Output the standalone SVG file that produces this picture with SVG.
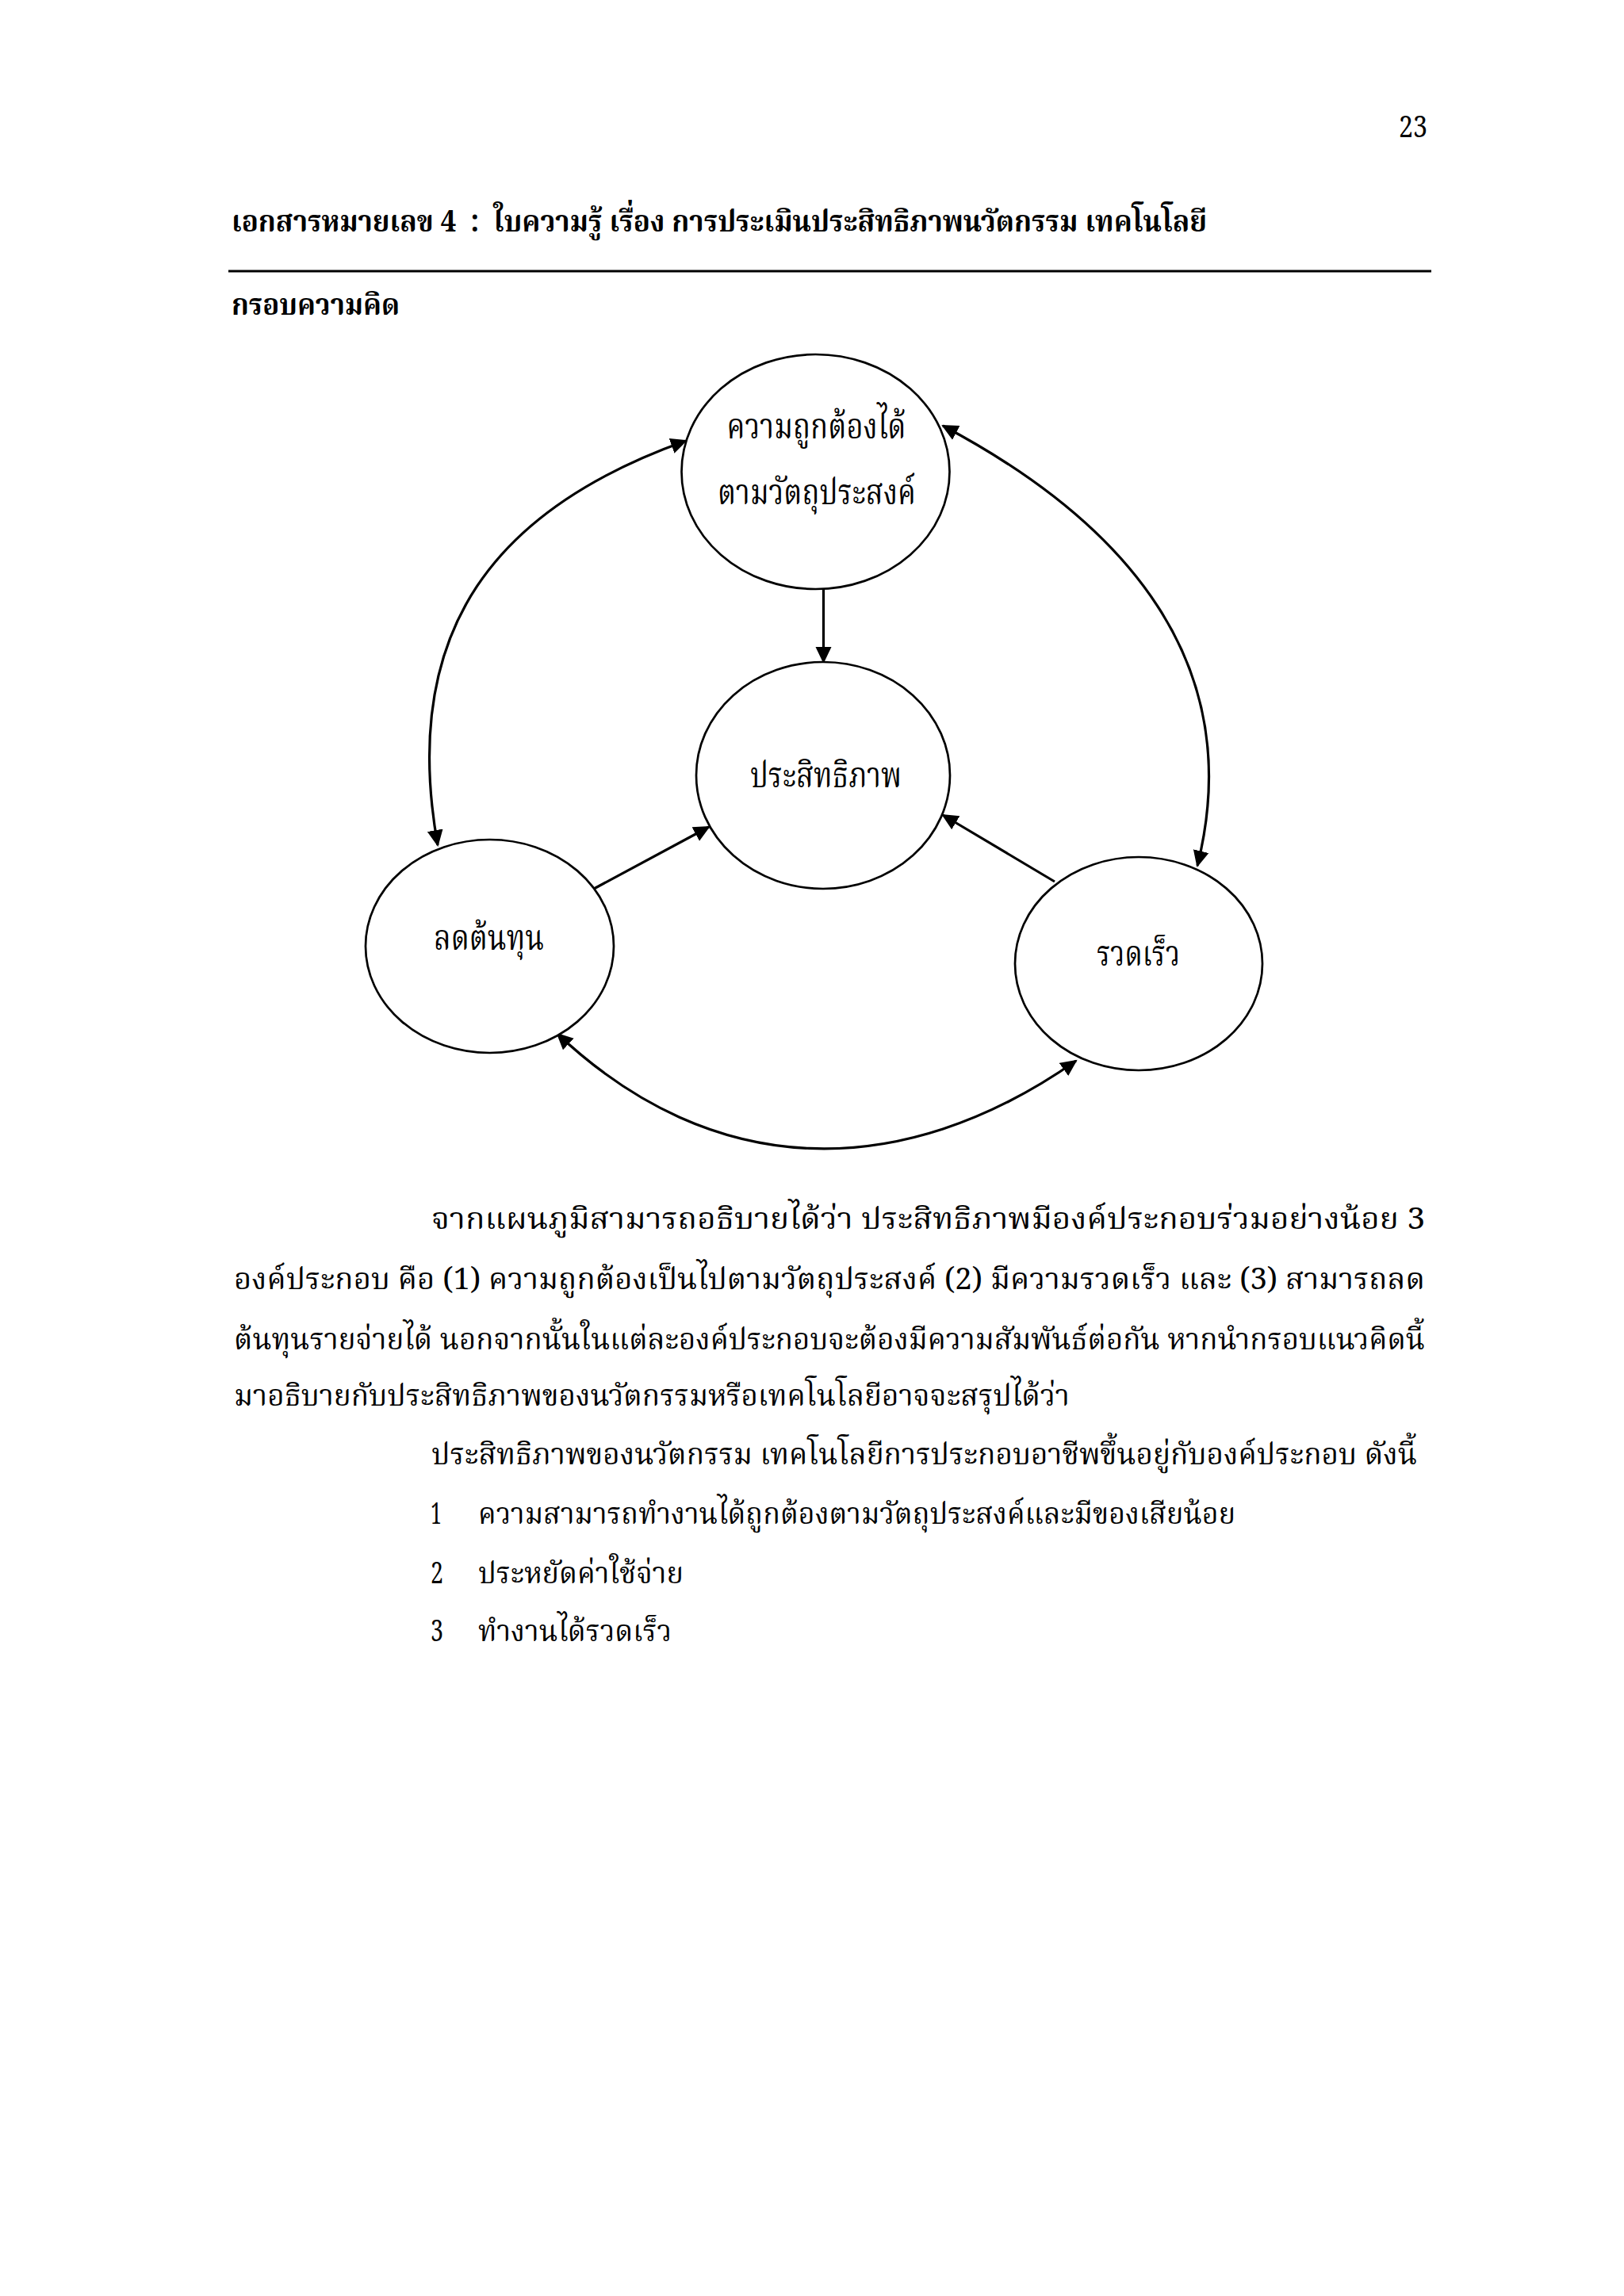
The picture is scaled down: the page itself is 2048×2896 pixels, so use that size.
<svg xmlns="http://www.w3.org/2000/svg" width="2048" height="2896" viewBox="0 0 2048 2896">
<style>
text{font-family:"Noto Serif Thai","Noto Sans Thai","Liberation Serif","Noto Sans",serif;fill:#000}
.b{font-weight:bold}
.t{font-size:38px}
.d{font-size:44px}
.node{fill:#fff;stroke:#000;stroke-width:2.7}
.c{fill:none;stroke:#000;stroke-width:3.2}
</style>
<defs>
<marker id="ah" markerUnits="userSpaceOnUse" markerWidth="22" markerHeight="22" viewBox="0 0 22 22" refX="19" refY="11" orient="auto-start-reverse">
<path d="M0,1 L21,11 L0,21 z" fill="#000"/>
</marker>
</defs>
<rect x="0" y="0" width="2048" height="2896" fill="#fff"/>

<text class="t" x="1764" y="173" textLength="36" lengthAdjust="spacingAndGlyphs">23</text>
<text class="t b" x="292" y="292" textLength="1230" lengthAdjust="spacingAndGlyphs" style="white-space:pre">เอกสารหมายเลข 4  :  ใบความรู้ เรื่อง การประเมินประสิทธิภาพนวัตกรรม เทคโนโลยี</text>
<line x1="288" y1="342" x2="1805" y2="342" stroke="#000" stroke-width="3"/>
<text class="t b" x="292" y="397" textLength="212" lengthAdjust="spacingAndGlyphs">กรอบความคิด</text>

<g id="connectors">
<path class="c" d="M552,1066 C502.7,790.5 629.5,640 865,556" marker-start="url(#ah)" marker-end="url(#ah)"/>
<path class="c" d="M1189,537 C1436,668 1570.8,849.5 1510,1092" marker-start="url(#ah)" marker-end="url(#ah)"/>
<path class="c" d="M703,1304 C899.3,1489.2 1135.9,1492.7 1357,1338" marker-start="url(#ah)" marker-end="url(#ah)"/>
<path class="c" d="M1038.5,743 L1038.5,835" marker-end="url(#ah)"/>
<path class="c" d="M749,1121 L894,1043" marker-end="url(#ah)"/>
<path class="c" d="M1330,1112 L1189,1028" marker-end="url(#ah)"/>
</g>

<g id="node-accuracy">
<ellipse class="node" cx="1028.5" cy="595" rx="169" ry="148"/>
<text class="d" x="916.5" y="553" textLength="226" lengthAdjust="spacingAndGlyphs">ความถูกต้องได้</text>
<text class="d" x="905" y="636" textLength="250" lengthAdjust="spacingAndGlyphs">ตามวัตถุประสงค์</text>
</g>
<g id="node-efficiency">
<ellipse class="node" cx="1038" cy="978" rx="160" ry="143"/>
<text class="d" x="946" y="993" textLength="191" lengthAdjust="spacingAndGlyphs">ประสิทธิภาพ</text>
</g>
<g id="node-cost">
<ellipse class="node" cx="617.5" cy="1193.5" rx="156.5" ry="134.5"/>
<text class="d" x="547" y="1198" textLength="139" lengthAdjust="spacingAndGlyphs">ลดต้นทุน</text>
</g>
<g id="node-speed">
<ellipse class="node" cx="1436" cy="1215.5" rx="156" ry="134.5"/>
<text class="d" x="1383" y="1218" textLength="105" lengthAdjust="spacingAndGlyphs">รวดเร็ว</text>
</g>

<text class="t" x="544" y="1550" textLength="1253" lengthAdjust="spacingAndGlyphs">จากแผนภูมิสามารถอธิบายได้ว่า ประสิทธิภาพมีองค์ประกอบร่วมอย่างน้อย 3</text>
<text class="t" x="295" y="1626" textLength="1502" lengthAdjust="spacingAndGlyphs">องค์ประกอบ คือ (1) ความถูกต้องเป็นไปตามวัตถุประสงค์ (2) มีความรวดเร็ว และ (3) สามารถลด</text>
<text class="t" x="295" y="1702" textLength="1502" lengthAdjust="spacingAndGlyphs">ต้นทุนรายจ่ายได้ นอกจากนั้นในแต่ละองค์ประกอบจะต้องมีความสัมพันธ์ต่อกัน หากนำกรอบแนวคิดนี้</text>
<text class="t" x="295" y="1773" textLength="1054" lengthAdjust="spacingAndGlyphs">มาอธิบายกับประสิทธิภาพของนวัตกรรมหรือเทคโนโลยีอาจจะสรุปได้ว่า</text>
<text class="t" x="544" y="1847" textLength="1243" lengthAdjust="spacingAndGlyphs">ประสิทธิภาพของนวัตกรรม เทคโนโลยีการประกอบอาชีพขึ้นอยู่กับองค์ประกอบ ดังนี้</text>
<text class="t" x="543" y="1922" textLength="14" lengthAdjust="spacingAndGlyphs">1</text>
<text class="t" x="603" y="1922" textLength="955" lengthAdjust="spacingAndGlyphs">ความสามารถทำงานได้ถูกต้องตามวัตถุประสงค์และมีของเสียน้อย</text>
<text class="t" x="543" y="1997" textLength="16" lengthAdjust="spacingAndGlyphs">2</text>
<text class="t" x="603" y="1997" textLength="259" lengthAdjust="spacingAndGlyphs">ประหยัดค่าใช้จ่าย</text>
<text class="t" x="543" y="2070" textLength="16" lengthAdjust="spacingAndGlyphs">3</text>
<text class="t" x="603" y="2070" textLength="244" lengthAdjust="spacingAndGlyphs">ทำงานได้รวดเร็ว</text>
</svg>
